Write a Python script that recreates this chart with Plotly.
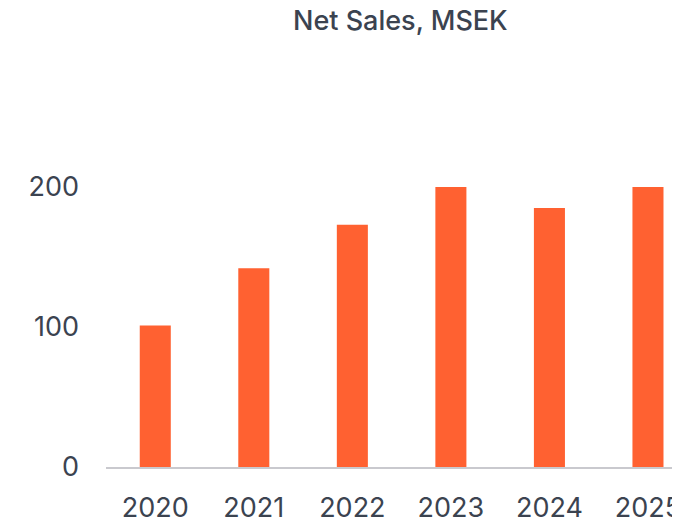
import plotly.graph_objects as go

years = ["2020", "2021", "2022", "2023", "2024", "2025"]
net_sales = [101, 142, 173, 200, 185, 200]
y_ticks = [0, 100, 200]

bar_color = "#FF6131"
text_color = "#3B4350"
font_family = "Inter, Roboto, sans-serif"

fig = go.Figure(
    go.Bar(
        x=years,
        y=net_sales,
        marker=dict(color=bar_color, line=dict(width=0)),
        width=0.315,
        hoverinfo="x+y",
    )
)

# page body has an 8px default margin, so figure coordinates are offset by 8px
fig.update_layout(
    width=672,
    height=516,
    margin=dict(l=98, r=0, t=39, b=57),
    paper_bgcolor="white",
    plot_bgcolor="white",
    showlegend=False,
    font=dict(family=font_family, color=text_color),
    annotations=[
        dict(
            text="Net Sales, MSEK",
            xref="paper",
            yref="paper",
            x=(392 - 98) / (672 - 98),
            y=1 + (39 - 12) / 420,
            xanchor="center",
            yanchor="middle",
            showarrow=False,
            font=dict(family=font_family, size=27, color=text_color, weight=500),
        )
    ],
)

fig.update_xaxes(
    type="category",
    range=[-0.5, 5.325],
    showgrid=False,
    showline=True,
    linecolor="#C9C9CE",
    linewidth=2,
    ticks="",
    ticklabelstandoff=16,
    tickfont=dict(family=font_family, size=27, color=text_color),
    zeroline=False,
)

fig.update_yaxes(
    range=[0, 300],
    tickvals=y_ticks,
    ticktext=[str(v) for v in y_ticks],
    showgrid=False,
    showline=False,
    zeroline=False,
    ticks="",
    ticklabelstandoff=26,
    tickfont=dict(family=font_family, size=27, color=text_color),
)

fig.write_html("out.html")
